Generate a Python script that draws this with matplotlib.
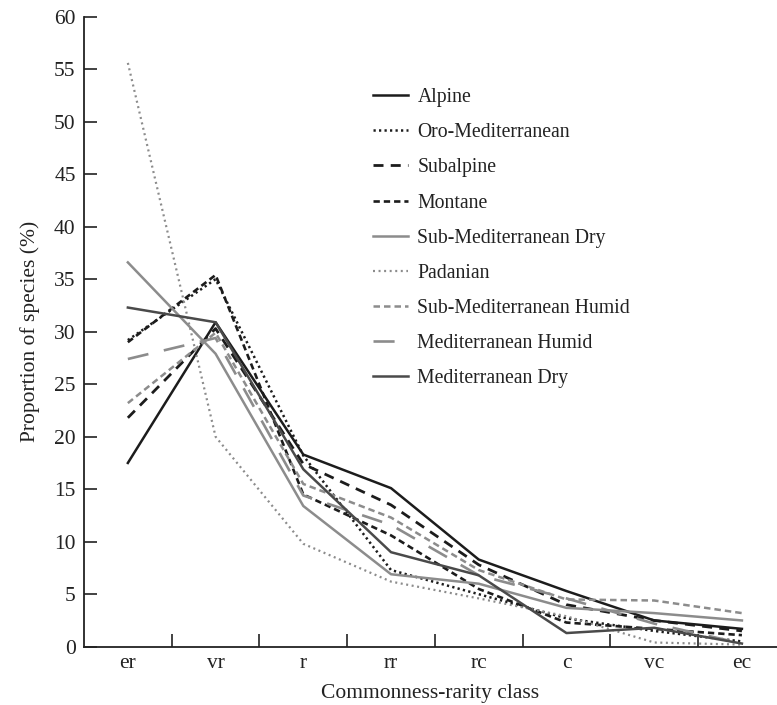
import matplotlib
matplotlib.use("Agg")
import matplotlib.pyplot as plt
import numpy as np

classes = ["er", "vr", "r", "rr", "rc", "c", "vc", "ec"]

alpine = [17.5, 30.9, 18.3, 15.1, 8.3, 5.3, 2.5, 1.7]
oro_med = [29.2, 35.0, 18.2, 7.3, 5.0, 2.7, 1.5, 0.5]
subalpine = [21.8, 30.3, 17.4, 13.5, 7.8, 4.0, 2.5, 1.5]
montane = [29.0, 35.4, 14.5, 10.6, 5.5, 2.3, 1.7, 1.1]
sub_med_dry = [36.6, 27.9, 13.4, 6.9, 6.0, 3.7, 3.2, 2.5]
padanian = [55.6, 20.0, 9.8, 6.2, 4.6, 2.9, 0.4, 0.2]
sub_med_humid = [23.2, 29.9, 15.5, 12.3, 7.3, 4.5, 4.4, 3.2]
med_humid = [27.4, 29.4, 14.4, 11.6, 6.8, 4.6, 2.2, 0.3]
med_dry = [32.3, 30.9, 16.9, 9.0, 6.8, 1.3, 1.8, 0.3]

series = [
    ("Alpine", alpine),
    ("Oro-Mediterranean", oro_med),
    ("Subalpine", subalpine),
    ("Montane", montane),
    ("Sub-Mediterranean Dry", sub_med_dry),
    ("Padanian", padanian),
    ("Sub-Mediterranean Humid", sub_med_humid),
    ("Mediterranean Humid", med_humid),
    ("Mediterranean Dry", med_dry),
]

BLACK = "#1c1c1c"
GRAY = "#8c8c8c"
DGRAY = "#4a4a4a"
styles = {
    "Alpine": dict(color=BLACK, lw=1.8, ls="-"),
    "Oro-Mediterranean": dict(color=BLACK, lw=1.8, ls=(0, (0.9, 1.3))),
    "Subalpine": dict(color=BLACK, lw=2.0, ls=(0, (3.6, 2.6))),
    "Montane": dict(color=BLACK, lw=1.9, ls=(0, (2.4, 1.5))),
    "Sub-Mediterranean Dry": dict(color=GRAY, lw=1.8, ls="-"),
    "Padanian": dict(color=GRAY, lw=1.6, ls=(0, (0.9, 1.6))),
    "Sub-Mediterranean Humid": dict(color=GRAY, lw=1.8, ls=(0, (2.6, 1.6))),
    "Mediterranean Humid": dict(color=GRAY, lw=1.9, ls=(0, (8, 6))),
    "Mediterranean Dry": dict(color=DGRAY, lw=1.8, ls="-"),
}

plt.rcParams["font.family"] = ["Liberation Serif", "DejaVu Serif"]

W, H = 777, 705
fig = plt.figure(figsize=(W / 100, H / 100), dpi=100)
ax = fig.add_axes([84 / W, 58.3 / H, 1 - 84 / W, (646.7 - 16.7) / H])

x = np.arange(len(classes))
for name, vals in series:
    ax.plot(x, vals, label=name, **styles[name])

ax.set_xlim(-0.5, 7.4)
ax.set_ylim(0, 60)
ax.set_yticks(np.arange(0, 61, 5))
ax.set_xticks(x)
ax.set_xticklabels(classes)
ax.set_xticks(np.arange(0.5, 7, 1), minor=True)

for s in ["top", "right"]:
    ax.spines[s].set_visible(False)
for s in ["left", "bottom"]:
    ax.spines[s].set_linewidth(1.3)
    ax.spines[s].set_color("#222222")

ax.tick_params(axis="y", direction="in", length=9.5, width=1.2, labelsize=15.5, pad=6, colors="#222222")
ax.tick_params(axis="x", which="major", length=0, labelsize=15.5, pad=5, colors="#222222")
ax.tick_params(axis="x", which="minor", direction="in", length=9.5, width=1.2, color="#222222")

ax.set_xlabel("Commonness-rarity class", fontsize=15.5, labelpad=8, color="#222222")
ax.set_ylabel("Proportion of species (%)", fontsize=15.5, labelpad=10, color="#222222")

leg = ax.legend(loc="upper left", bbox_to_anchor=(373 / W, 1 - 88 / H),
                bbox_transform=fig.transFigure, frameon=False, fontsize=14.2,
                handlelength=1.75, handletextpad=0.5, labelspacing=0.82,
                borderpad=0, borderaxespad=0)
for t in leg.get_texts():
    t.set_color("#222222")

fig.savefig("out.png", dpi=100)
